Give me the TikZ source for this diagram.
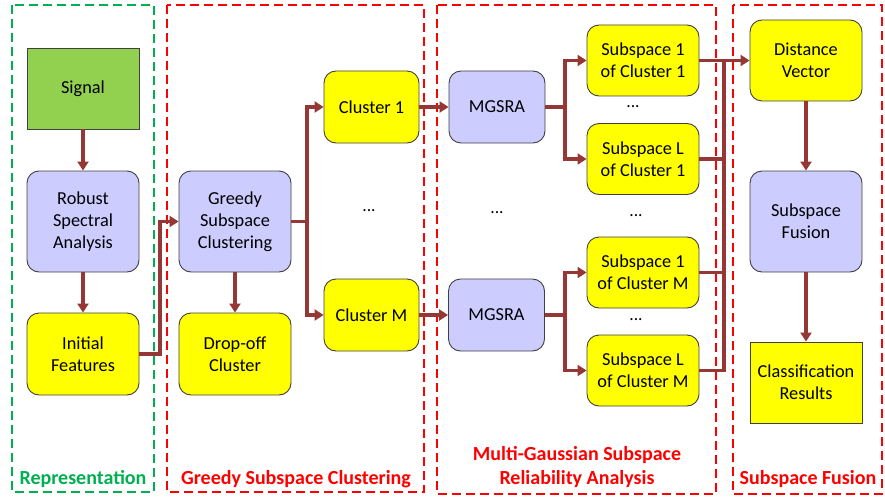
\documentclass[tikz,border=0pt]{standalone}
\usepackage{fontspec}
\setmainfont{Carlito}
\usetikzlibrary{arrows.meta}
\definecolor{arr}{HTML}{953735}
\definecolor{gfill}{HTML}{92D050}
\definecolor{pfill}{HTML}{CCCCFF}
\definecolor{yfill}{HTML}{FFFF00}
\definecolor{bord}{HTML}{404040}
\definecolor{grn}{HTML}{00B050}
\definecolor{rd}{HTML}{FF0000}
\tikzset{
  base/.style={draw=bord, line width=0.9pt, align=center, font=\fontsize{18.3}{22}\selectfont, inner sep=0pt},
  rbox/.style={base, rounded corners=12pt},
  sig/.style={base, fill=gfill},
  proc/.style={rbox, fill=pfill},
  ybox/.style={rbox, fill=yfill},
  yrect/.style={base, fill=yfill},
  conn/.style={draw=arr, line width=3.5pt},
  arrow/.style={conn, -{Triangle[length=9pt,width=11pt]}},
  frame/.style={line width=2.5pt, dash pattern=on 9pt off 5pt},
  lbl/.style={font=\bfseries\fontsize{20}{24}\selectfont, align=center},
  dots/.style={font=\fontsize{17.5}{21}\selectfont}
}
\begin{document}
\begin{tikzpicture}[x=1pt,y=-1pt]
\useasboundingbox (0,0) rectangle (885,500);
% frames
\draw[frame, grn] (12,5) rectangle (154,492);
\draw[frame, rd] (167,5) rectangle (424,492);
\draw[frame, rd] (437,5) rectangle (716,494);
\draw[frame, rd] (733,5) rectangle (882,494);
% nodes
\node[sig, minimum width=112pt, minimum height=81pt] (signal) at (83,88.5) {Signal};
\node[proc, minimum width=112pt, minimum height=101pt] (rsa) at (83,221.5) {Robust\\Spectral\\Analysis};
\node[ybox, minimum width=112pt, minimum height=82pt] (init) at (83,354) {Initial\\Features};
\node[proc, minimum width=112pt, minimum height=101pt] (gsc) at (235,221.5) {Greedy\\Subspace\\Clustering};
\node[ybox, minimum width=112pt, minimum height=82pt] (drop) at (235,354) {Drop-off\\Cluster};
\node[ybox, minimum width=95pt, minimum height=72pt] (c1) at (371.5,107) {Cluster 1};
\node[ybox, minimum width=95pt, minimum height=72pt] (cM) at (371.5,315) {Cluster M};
\node[proc, minimum width=96pt, minimum height=72pt] (m1) at (497,107) {MGSRA};
\node[proc, minimum width=96pt, minimum height=72pt] (mM) at (496.5,315) {MGSRA};
\node[ybox, minimum width=112pt, minimum height=71pt] (s11) at (643,60.5) {Subspace 1\\of Cluster 1};
\node[ybox, minimum width=112pt, minimum height=71pt] (sL1) at (643,159) {Subspace L\\of Cluster 1};
\node[ybox, minimum width=112pt, minimum height=71pt] (s1M) at (643,272.5) {Subspace 1\\of Cluster M};
\node[ybox, minimum width=112pt, minimum height=71pt] (sLM) at (643,370.5) {Subspace L\\of Cluster M};
\node[ybox, minimum width=112pt, minimum height=81pt] (dv) at (806,60.5) {Distance\\Vector};
\node[proc, minimum width=112pt, minimum height=101pt] (sf) at (806,221.5) {Subspace\\Fusion};
\node[yrect, minimum width=112pt, minimum height=81pt] (cr) at (806,382.5) {Classification\\Results};
% dots
\node[dots] (d1) at (369,211) {...};
\node[dots] (d2) at (497,213) {...};
\node[dots] (d3) at (633,107) {...};
\node[dots] (d4) at (636,216) {...};
\node[dots] (d5) at (636,320) {...};
% labels
\node[lbl, text=grn] (l1) at (83,479) {Representation};
\node[lbl, text=rd] (l2) at (296,479) {Greedy Subspace Clustering};
\node[lbl, text=rd] (l3) at (577,467) {Multi-Gaussian Subspace\\Reliability Analysis};
\node[lbl, text=rd] (l4) at (808,479) {Subspace Fusion};
% coordinates
\coordinate (j1) at (160,354);
\coordinate (j2) at (307,221.5);
\coordinate (j3) at (565,107);
\coordinate (j4) at (565,315);
\coordinate (bt) at (724,60.5);
\coordinate (bb) at (724,370.5);
% connectors
\draw[arrow] (signal) -- (rsa);
\draw[arrow] (rsa) -- (init);
\draw[arrow] (init.east) -- (j1) |- (gsc.west);
\draw[arrow] (gsc) -- (drop);
\draw[conn] (gsc.east) -- (j2);
\draw[arrow] (j2) |- (c1.west);
\draw[arrow] (j2) |- (cM.west);
\draw[arrow] (c1) -- (m1);
\draw[arrow] (cM) -- (mM);
\draw[conn] (m1.east) -- (j3);
\draw[arrow] (j3) |- (s11.west);
\draw[arrow] (j3) |- (sL1.west);
\draw[conn] (mM.east) -- (j4);
\draw[arrow] (j4) |- (s1M.west);
\draw[arrow] (j4) |- (sLM.west);
\draw[arrow] (s11.east) -- (dv.west);
\draw[conn] (bt) -- (bb);
\draw[conn] (sL1.east) -- (sL1.east -| bt);
\draw[conn] (s1M.east) -- (s1M.east -| bt);
\draw[conn, line join=miter] (sLM.east) -- (bb) -- ([yshift=1.75pt]bb);
\draw[arrow] (dv) -- (sf);
\draw[arrow] (sf) -- (cr);
\end{tikzpicture}
\end{document}
